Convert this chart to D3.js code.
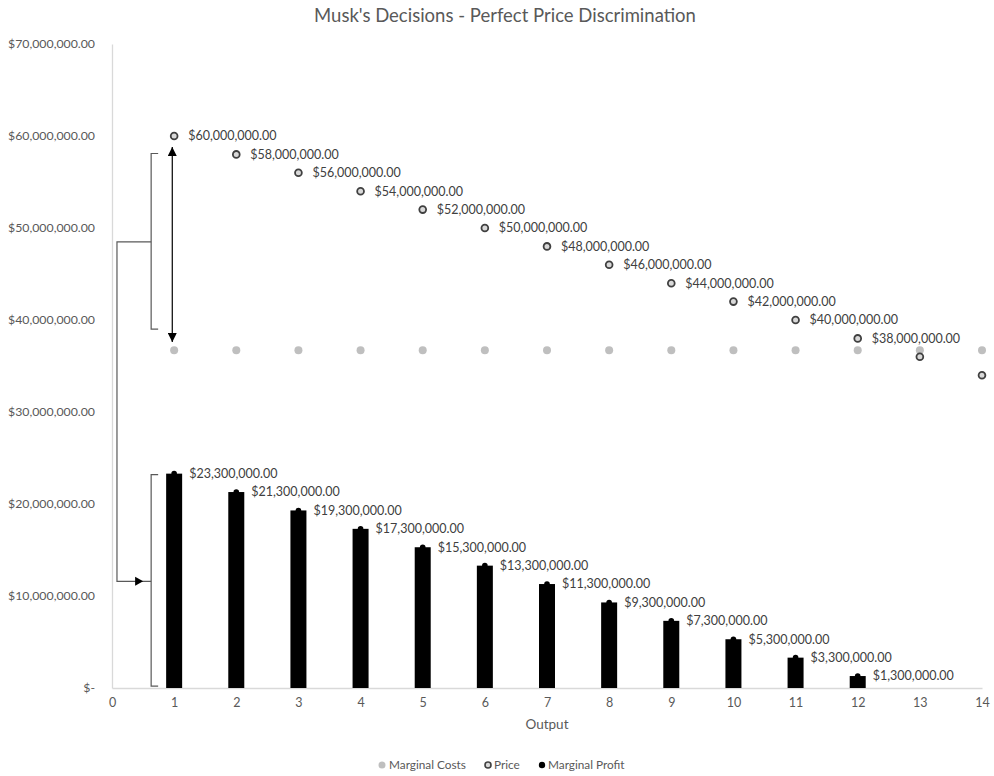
<!DOCTYPE html>
<html>
<head>
<meta charset="utf-8">
<script src="https://cdn.jsdelivr.net/npm/d3@7/dist/d3.min.js"></script>
<style>
  html, body { margin: 0; padding: 0; background: #fff; }
  svg { display: block; font-family: Lato, "Open Sans", sans-serif; }
</style>
</head>
<body>
<svg id="chart" width="994" height="776"></svg>
<script>
// Output units
const output = [1, 2, 3, 4, 5, 6, 7, 8, 9, 10, 11, 12, 13, 14];
// Price per unit under perfect price discrimination
const price = [60e6, 58e6, 56e6, 54e6, 52e6, 50e6, 48e6, 46e6, 44e6, 42e6, 40e6, 38e6, 36e6, 34e6];
// Constant marginal cost
const marginalCost = [36.7e6, 36.7e6, 36.7e6, 36.7e6, 36.7e6, 36.7e6, 36.7e6, 36.7e6, 36.7e6, 36.7e6, 36.7e6, 36.7e6, 36.7e6, 36.7e6];
// Marginal profit for the profitable units (1..12)
const profitOutput = [1, 2, 3, 4, 5, 6, 7, 8, 9, 10, 11, 12];
const marginalProfit = [23.3e6, 21.3e6, 19.3e6, 17.3e6, 15.3e6, 13.3e6, 11.3e6, 9.3e6, 7.3e6, 5.3e6, 3.3e6, 1.3e6];
// Price points that carry a value label
const labelledPriceCount = 12;
// Axis ticks
const xTicks = [0, 1, 2, 3, 4, 5, 6, 7, 8, 9, 10, 11, 12, 13, 14];
const yTicks = [0, 10e6, 20e6, 30e6, 40e6, 50e6, 60e6, 70e6];

const svg = d3.select("#chart");
const x = d3.scaleLinear().domain([0, 14]).range([112, 982]);
const y = d3.scaleLinear().domain([0, 70e6]).range([688, 44]);

const money = d3.format("$,.2f");
const tickText = v => v === 0 ? "$-" : money(v);

const textCol = "#595959";
const axisCol = "#d9d9d9";

// Title
svg.append("text")
  .attr("x", 505).attr("y", 22)
  .attr("text-anchor", "middle")
  .attr("font-size", 18.5).attr("fill", textCol)
  .text("Musk's Decisions - Perfect Price Discrimination");

// Y axis
const yAxis = svg.append("g").attr("transform", `translate(${x(0)},0)`)
  .call(d3.axisLeft(y).tickValues(yTicks).tickFormat(tickText).tickSize(0).tickPadding(17));
yAxis.select(".domain").attr("stroke", axisCol).attr("stroke-width", 1.3);
yAxis.selectAll("text").attr("font-size", 12.3).attr("fill", textCol).attr("font-family", "Lato, sans-serif");

// X axis
const xAxis = svg.append("g").attr("transform", `translate(0,${y(0)})`)
  .call(d3.axisBottom(x).tickValues(xTicks).tickFormat(d3.format("d")).tickSize(0).tickPadding(10));
xAxis.select(".domain").attr("stroke", axisCol).attr("stroke-width", 1.3);
xAxis.selectAll("text").attr("font-size", 12.5).attr("fill", textCol).attr("font-family", "Lato, sans-serif");

svg.append("text")
  .attr("x", (x(0) + x(14)) / 2).attr("y", 729)
  .attr("text-anchor", "middle").attr("font-size", 13.5).attr("fill", textCol)
  .text("Output");

// Marginal profit bars with markers on top
const bw = 16;
svg.append("g").selectAll("rect").data(profitOutput).join("rect")
  .attr("x", (d) => x(d) - bw / 2)
  .attr("y", (d, i) => y(marginalProfit[i]))
  .attr("width", bw)
  .attr("height", (d, i) => y(0) - y(marginalProfit[i]))
  .attr("fill", "#000");
svg.append("g").selectAll("circle").data(profitOutput).join("circle")
  .attr("cx", d => x(d)).attr("cy", (d, i) => y(marginalProfit[i]))
  .attr("r", 2.8).attr("fill", "#000");
svg.append("g").selectAll("text").data(profitOutput).join("text")
  .attr("x", d => x(d) + 15).attr("y", (d, i) => y(marginalProfit[i]))
  .attr("dy", "0.35em").attr("font-size", 12.5).attr("fill", "#404040")
  .text((d, i) => money(marginalProfit[i]));

// Marginal cost markers
svg.append("g").selectAll("circle").data(output).join("circle")
  .attr("cx", d => x(d)).attr("cy", (d, i) => y(marginalCost[i]))
  .attr("r", 4).attr("fill", "#bfbfbf");

// Price markers
svg.append("g").selectAll("circle").data(output).join("circle")
  .attr("cx", d => x(d)).attr("cy", (d, i) => y(price[i]))
  .attr("r", 3.4).attr("fill", "#d9d9d9").attr("stroke", "#404040").attr("stroke-width", 1.8);
svg.append("g").selectAll("text").data(output.slice(0, labelledPriceCount)).join("text")
  .attr("x", d => x(d) + 14).attr("y", (d, i) => y(price[i]))
  .attr("dy", "0.35em").attr("font-size", 12.5).attr("fill", "#404040")
  .text((d, i) => money(price[i]));

// Annotation: brackets, connector and double arrow
const defs = svg.append("defs");
defs.append("marker").attr("id", "tri")
  .attr("viewBox", "0 0 10 10").attr("refX", 10).attr("refY", 5)
  .attr("markerWidth", 9).attr("markerHeight", 9).attr("markerUnits", "userSpaceOnUse")
  .attr("orient", "auto-start-reverse")
  .append("path").attr("d", "M0,0L10,5L0,10Z").attr("fill", "#000");

const ann = svg.append("g").attr("fill", "none").attr("stroke", "#595959").attr("stroke-width", 1.2);
const bx = x(0.63), tick = 7;
function bracket(top, bottom) {
  ann.append("path").attr("d",
    `M${bx + tick},${y(top)}H${bx}V${y(bottom)}H${bx + tick}`);
}
bracket(58.1e6, 39.0e6);
bracket(23.2e6, 0.2e6);
const cx0 = x(0.08);
ann.append("path").attr("d",
  `M${bx},${y(48.5e6)}H${cx0}V${y(11.6e6)}H${bx}`);
// arrowhead on the connector pointing into the lower bracket
svg.append("path")
  .attr("d", `M${bx - 16},${y(11.6e6) - 4.5}L${bx - 8},${y(11.6e6)}L${bx - 16},${y(11.6e6) + 4.5}Z`)
  .attr("fill", "#000");
// double-headed arrow spanning price to marginal cost
svg.append("line")
  .attr("x1", x(0.97)).attr("x2", x(0.97))
  .attr("y1", y(58.8e6)).attr("y2", y(37.6e6))
  .attr("stroke", "#000").attr("stroke-width", 1.2)
  .attr("marker-start", "url(#tri)").attr("marker-end", "url(#tri)");

// Legend
const leg = svg.append("g").attr("font-size", 11.8).attr("fill", textCol);
leg.append("circle").attr("cx", 382).attr("cy", 765).attr("r", 3.5).attr("fill", "#bfbfbf");
leg.append("text").attr("x", 389).attr("y", 765).attr("dy", "0.35em").text("Marginal Costs");
leg.append("circle").attr("cx", 488).attr("cy", 765).attr("r", 3).attr("fill", "#d9d9d9").attr("stroke", "#404040").attr("stroke-width", 1.6);
leg.append("text").attr("x", 494).attr("y", 765).attr("dy", "0.35em").text("Price");
leg.append("circle").attr("cx", 542).attr("cy", 765).attr("r", 3.2).attr("fill", "#000");
leg.append("text").attr("x", 548).attr("y", 765).attr("dy", "0.35em").text("Marginal Profit");
</script>
</body>
</html>
